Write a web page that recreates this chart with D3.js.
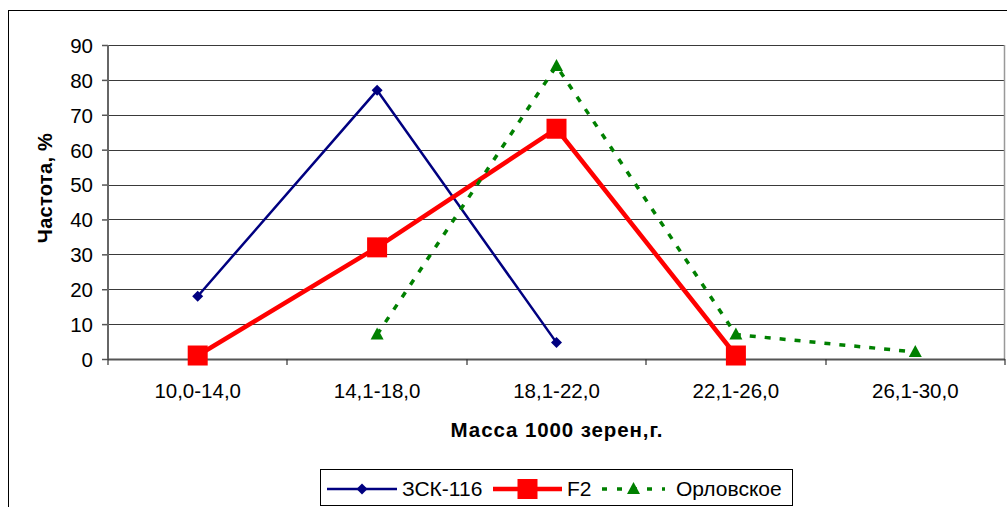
<!DOCTYPE html>
<html>
<head>
<meta charset="utf-8">
<script src="https://cdn.jsdelivr.net/npm/d3@7"></script>
<style>
  html, body { margin: 0; padding: 0; background: #fff; }
  svg { display: block; font-family: "Liberation Sans", Arial, sans-serif; }
</style>
</head>
<body>
<svg id="chart" width="1007" height="507"></svg>
<script>
// Mass classes of 1000 grains, g
const categories = ["10,0-14,0", "14,1-18,0", "18,1-22,0", "22,1-26,0", "26,1-30,0"];
// Frequency, % (null = class absent)
const zsk116 = [18, 77, 4.7, null, null];
const f2 = [1, 32, 66, 1, null];
const orlovskoe = [null, 7, 84, 7, 2];
const yTicks = [0, 10, 20, 30, 40, 50, 60, 70, 80, 90];

const FONT = "'Liberation Sans', Arial, sans-serif";
const svg = d3.select("#chart");
const W = 1007, H = 507;
const plot = { left: 108, right: 1005, top: 45, bottom: 359 };

// outer chart frame
svg.append("rect")
  .attr("x", 8.5).attr("y", 10.5)
  .attr("width", W + 20).attr("height", H + 20)
  .attr("fill", "#fff").attr("stroke", "#000").attr("stroke-width", 1);

const x = d3.scaleBand().domain(categories).range([plot.left, plot.right]).padding(0);
const y = d3.scaleLinear().domain([0, 90]).range([plot.bottom, plot.top]);

// horizontal gridlines
svg.append("g")
  .selectAll("line")
  .data(yTicks.filter(t => t > 0))
  .join("line")
  .attr("x1", plot.left).attr("x2", plot.right)
  .attr("y1", d => Math.round(y(d)) + 0.5).attr("y2", d => Math.round(y(d)) + 0.5)
  .attr("stroke", "#3a3a3a").attr("stroke-width", 1.2);

// right border of plot area
svg.append("line")
  .attr("x1", plot.right - 0.5).attr("x2", plot.right - 0.5)
  .attr("y1", plot.top).attr("y2", plot.bottom)
  .attr("stroke", "#999").attr("stroke-width", 1.5);

// Y axis
const yAxis = d3.axisLeft(y).tickValues(yTicks).tickSize(6).tickPadding(9).tickFormat(d3.format("d"));
const gy = svg.append("g").attr("transform", `translate(${plot.left},0)`).call(yAxis);
gy.select(".domain").remove();
gy.selectAll(".tick line").attr("stroke", "#555").attr("stroke-width", 1.5);
gy.selectAll(".tick text").attr("font-size", 20.5).attr("fill", "#000")
  .attr("font-family", FONT).attr("dy", "0.36em");
svg.append("line")
  .attr("x1", plot.left).attr("x2", plot.left)
  .attr("y1", plot.top).attr("y2", plot.bottom + 1)
  .attr("stroke", "#666").attr("stroke-width", 2);

// X axis with boundary tick marks
const boundaries = d3.range(categories.length + 1).map(i => plot.left + i * x.bandwidth());
svg.append("line")
  .attr("x1", plot.left).attr("x2", plot.right)
  .attr("y1", plot.bottom + 0.5).attr("y2", plot.bottom + 0.5)
  .attr("stroke", "#555").attr("stroke-width", 2);
svg.append("g").selectAll("line").data(boundaries).join("line")
  .attr("x1", d => Math.round(d)).attr("x2", d => Math.round(d))
  .attr("y1", plot.bottom).attr("y2", plot.bottom + 6)
  .attr("stroke", "#333").attr("stroke-width", 1.2);
svg.append("g").selectAll("text").data(categories).join("text")
  .attr("x", d => x(d) + x.bandwidth() / 2)
  .attr("y", 398)
  .attr("text-anchor", "middle")
  .attr("font-size", 20.5)
  .text(d => d);

// axis titles
svg.append("text")
  .attr("x", 557).attr("y", 437)
  .attr("text-anchor", "middle")
  .attr("font-size", 20.5).attr("font-weight", "bold")
  .attr("letter-spacing", 0.9)
  .text("Масса 1000 зерен,г.");
svg.append("text")
  .attr("transform", "translate(52,188) rotate(-90)")
  .attr("text-anchor", "middle")
  .attr("font-size", 20).attr("font-weight", "bold")
  .attr("letter-spacing", 0.3)
  .text("Частота, %");

// series
const cx = c => x(c) + x.bandwidth() / 2;
const series = [
  { name: "ЗСК-116", values: zsk116, color: "#000080", width: 2.5, dash: null, marker: "diamond" },
  { name: "F2", values: f2, color: "#ff0000", width: 4.5, dash: null, marker: "square" },
  { name: "Орловское", values: orlovskoe, color: "#008000", width: 3.5, dash: "6,9", marker: "triangle" }
];

function drawMarker(g, kind, color, px, py) {
  if (kind === "diamond") {
    g.append("path").attr("d", `M${px},${py - 5.5}L${px + 5.5},${py}L${px},${py + 5.5}L${px - 5.5},${py}Z`).attr("fill", color);
  } else if (kind === "square") {
    g.append("rect").attr("x", px - 10).attr("y", py - 10).attr("width", 20).attr("height", 20).attr("fill", color);
  } else {
    g.append("path").attr("d", `M${px},${py - 7}L${px + 6.5},${py + 5}L${px - 6.5},${py + 5}Z`).attr("fill", color);
  }
}

const line = d3.line()
  .defined(d => d.v !== null)
  .x(d => cx(d.c))
  .y(d => y(d.v));

series.forEach(s => {
  const pts = categories.map((c, i) => ({ c, v: s.values[i] }));
  const g = svg.append("g");
  g.append("path")
    .datum(pts)
    .attr("d", line)
    .attr("fill", "none")
    .attr("stroke", s.color)
    .attr("stroke-width", s.width)
    .attr("stroke-dasharray", s.dash)
    .attr("stroke-linejoin", "miter");
  pts.filter(d => d.v !== null).forEach(d => drawMarker(g, s.marker, s.color, cx(d.c), y(d.v)));
});

// legend
const lg = svg.append("g");
lg.append("rect")
  .attr("x", 320.5).attr("y", 469.5).attr("width", 472).attr("height", 36)
  .attr("fill", "#fff").attr("stroke", "#000").attr("stroke-width", 1);
const legendItems = [
  { s: series[0], x1: 327, x2: 397, tx: 402 },
  { s: series[1], x1: 493, x2: 562, tx: 567 },
  { s: series[2], x1: 602, x2: 665, tx: 676 }
];
const ly = 489;
legendItems.forEach(it => {
  lg.append("line")
    .attr("x1", it.x1).attr("x2", it.x2).attr("y1", ly).attr("y2", ly)
    .attr("stroke", it.s.color).attr("stroke-width", it.s.width)
    .attr("stroke-dasharray", it.s.dash ? "5,10" : null);
  drawMarker(lg, it.s.marker, it.s.color, (it.x1 + it.x2) / 2, ly);
  lg.append("text").attr("x", it.tx).attr("y", 495.5).attr("font-size", 21).text(it.s.name);
});
</script>
</body>
</html>
